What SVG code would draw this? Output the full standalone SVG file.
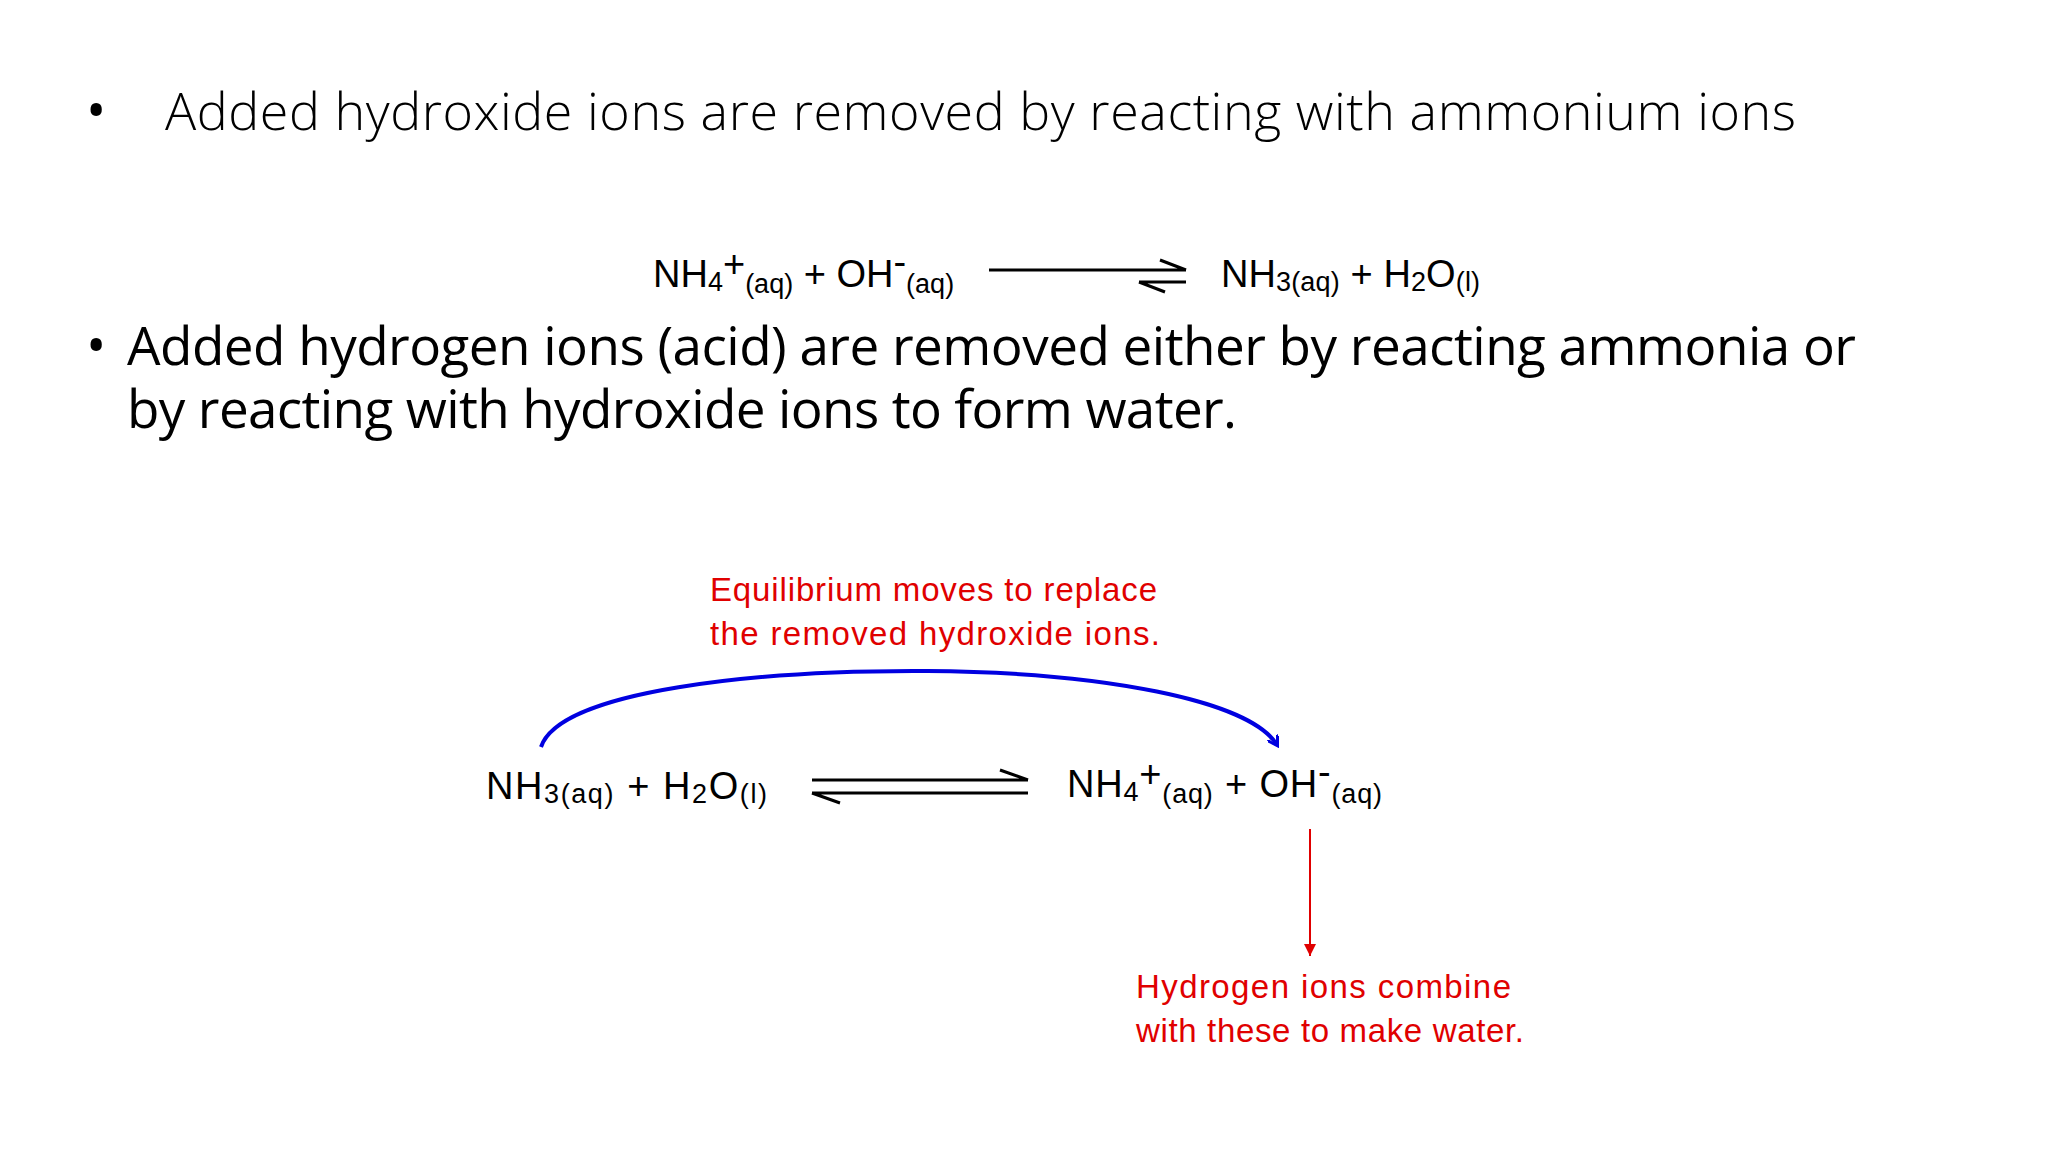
<svg xmlns="http://www.w3.org/2000/svg" width="2048" height="1152" viewBox="0 0 2048 1152">
<style>
.b{font-family:"Open Sans","Noto Sans",sans-serif;fill:#000}
.c{font-family:"Liberation Sans",Arial,sans-serif;font-size:38px;fill:#000}
.s{font-size:27px}
.r{font-family:"Liberation Sans",Arial,sans-serif;font-size:33px;fill:#e00000}
.k{stroke:#000;stroke-width:3;fill:none}
</style>
<defs>
<marker id="bh" markerWidth="12" markerHeight="12" refX="9" refY="6" orient="auto" markerUnits="userSpaceOnUse" viewBox="0 0 12 12"><path d="M0,0 L10,6 L0,12" fill="none" stroke="#0000e0" stroke-width="3"/></marker>
<marker id="rh" markerWidth="14" markerHeight="14" refX="12" refY="7" orient="auto" markerUnits="userSpaceOnUse"><path d="M0,1 L12,7 L0,13 Z" fill="#e00000"/></marker>
</defs>
<rect width="2048" height="1152" fill="#fff"/>
<g id="bullet1"><text class="b" x="86" y="130" font-size="54">•</text><text class="b" x="165" y="130" font-size="52" font-weight="300" textLength="1631">Added hydroxide ions are removed by reacting with ammonium ions</text></g>
<g id="eq1">
<text class="c" x="653" y="287">NH<tspan class="s" dy="4">4</tspan><tspan dy="-14">+</tspan><tspan class="s" dy="16">(aq)</tspan><tspan dy="-6"> + OH</tspan><tspan dy="-12">-</tspan><tspan class="s" dy="18">(aq)</tspan></text>
<path class="k" d="M989,270 H1186 M1186,270 L1160,260 M1139,282 H1186 M1139,282 L1165,292"/>
<text class="c" x="1221" y="287" textLength="259">NH<tspan class="s" dy="4">3(aq)</tspan><tspan dy="-4"> + H</tspan><tspan class="s" dy="4">2</tspan><tspan dy="-4">O</tspan><tspan class="s" dy="4">(l)</tspan></text>
</g>
<g id="bullet2"><text class="b" x="86" y="365" font-size="54">•</text><text class="b" x="127" y="365" font-size="53" textLength="1729">Added hydrogen ions (acid) are removed either by reacting ammonia or</text><text class="b" x="127" y="428" font-size="53" textLength="1110">by reacting with hydroxide ions to form water.</text></g>
<g id="note1"><text class="r" x="710" y="601" textLength="447">Equilibrium moves to replace</text><text class="r" x="710" y="645" textLength="450">the removed hydroxide ions.</text></g>
<g id="eq2">
<text class="c" x="486" y="799" textLength="281">NH<tspan class="s" dy="4">3(aq)</tspan><tspan dy="-4"> + H</tspan><tspan class="s" dy="4">2</tspan><tspan dy="-4">O</tspan><tspan class="s" dy="4">(l)</tspan></text>
<path class="k" d="M812,780 H1028 M1028,780 L1000,770 M812,793 H1028 M812,793 L840,803"/>
<text class="c" x="1067" y="797" textLength="315">NH<tspan class="s" dy="4">4</tspan><tspan dy="-14">+</tspan><tspan class="s" dy="16">(aq)</tspan><tspan dy="-6"> + OH</tspan><tspan dy="-12">-</tspan><tspan class="s" dy="18">(aq)</tspan></text>
</g>
<g id="note2"><text class="r" x="1136" y="998" textLength="375">Hydrogen ions combine</text><text class="r" x="1136" y="1042" textLength="388">with these to make water.</text></g>
<g id="connectors">
<path d="M541,747 C560,690 760,670 927,671 C1100,672 1250,700 1277,745" fill="none" stroke="#0000e0" stroke-width="4" marker-end="url(#bh)"/>
<path d="M1310,829 V956" stroke="#e00000" stroke-width="2" fill="none" marker-end="url(#rh)"/>
</g>
</svg>
